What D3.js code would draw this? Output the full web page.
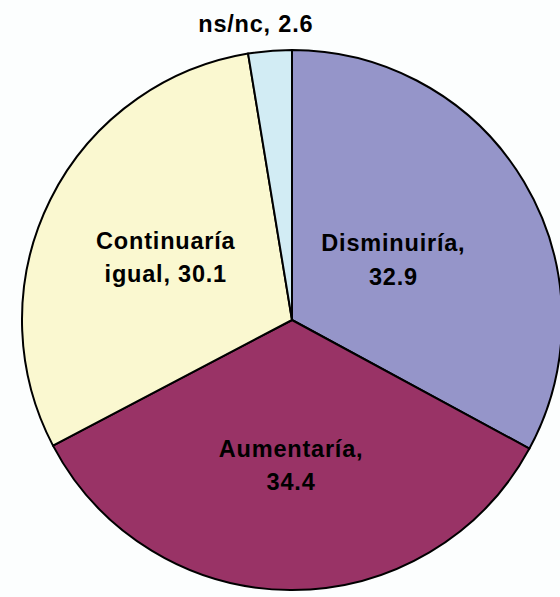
<!DOCTYPE html>
<html>
<head>
<meta charset="utf-8">
<script src="https://cdn.jsdelivr.net/npm/d3@7"></script>
<style>
  html, body { margin: 0; padding: 0; background: #fcfefe; }
  svg { display: block; }
  text { font-family: "Liberation Sans", Arial, sans-serif; font-weight: bold; font-size: 23.5px; letter-spacing: 0.8px; fill: #000; }
</style>
</head>
<body>
<div class="container"></div>
<script>
const categories = ['Disminuiría', 'Aumentaría', 'Continuaría igual', 'ns/nc'];
const values = [32.9, 34.4, 30.1, 2.6];
const labelLines = [['Disminuiría,', '32.9'], ['Aumentaría,', '34.4'], ['Continuaría', 'igual, 30.1'], ['ns/nc, 2.6']];

const colors = ['#9595c9', '#993366', '#faf8d0', '#d2ecf4'];
// label distance from the centre, per slice (last one sits outside)
const labelR = [118, 145, 141, 297];
const labelDx = [0, 0, 0, -12];

const width = 560, height = 597;
const cx = 292, cy = 320, r = 270;

const svg = d3.select('div.container').append('svg')
	.attr('width', width)
	.attr('height', height);

const g = svg.append('g').attr('transform', `translate(${cx},${cy})`);

const data = categories.map((c, i) => ({ name: c, value: values[i], i }));
const pie = d3.pie().value(d => d.value).sort(null);
const arc = d3.arc().innerRadius(0).outerRadius(r);
const arcs = pie(data);

g.selectAll('.slice')
	.data(arcs)
	.enter()
	.append('path')
	.attr('class', 'slice')
	.attr('d', arc)
	.style('fill', d => colors[d.data.i])
	.style('stroke', '#000')
	.style('stroke-width', 2)
	.style('stroke-linejoin', 'round');

const labels = g.selectAll('.label')
	.data(arcs)
	.enter()
	.append('text')
	.attr('class', 'label')
	.attr('text-anchor', 'middle')
	.attr('transform', d => {
		const a = (d.startAngle + d.endAngle) / 2;
		const lr = labelR[d.data.i];
		return `translate(${Math.sin(a) * lr + labelDx[d.data.i]},${-Math.cos(a) * lr})`;
	});

labels.each(function(d) {
	const lines = labelLines[d.data.i];
	const lh = 33.5;
	const t = d3.select(this);
	lines.forEach((s, k) => {
		t.append('tspan')
			.attr('x', 0)
			.attr('y', (k - (lines.length - 1) / 2) * lh + 8.5)
			.text(s);
	});
});
</script>
</body>
</html>
